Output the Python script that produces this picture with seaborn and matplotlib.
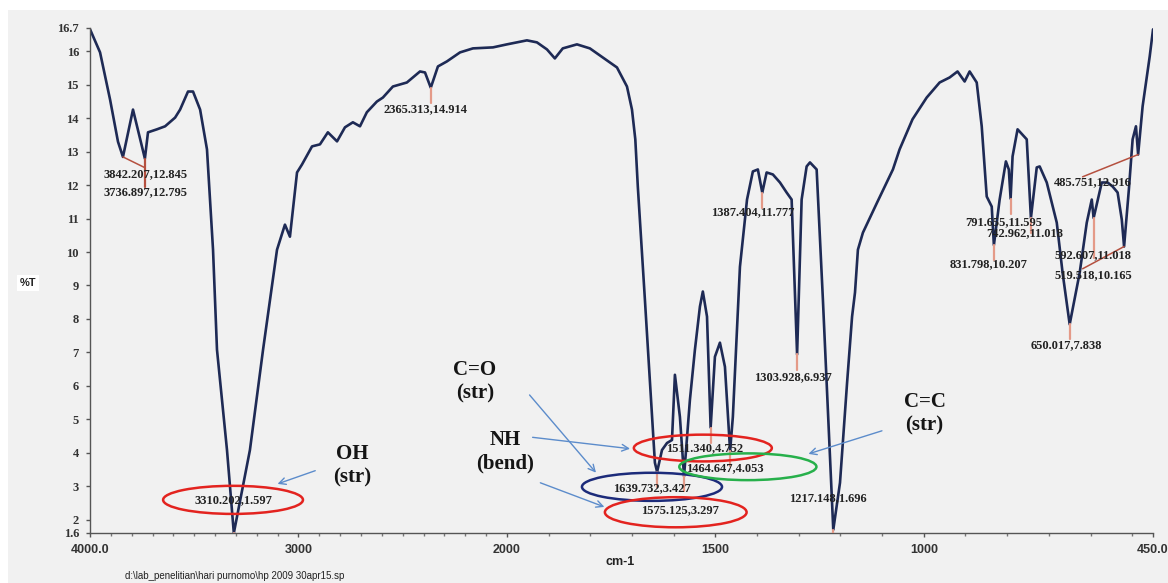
import numpy as np
import pandas as pd
import matplotlib
matplotlib.use("Agg")
import matplotlib.pyplot as plt
import seaborn as sns
from matplotlib.patches import Ellipse, Rectangle

# ---------------- data ----------------
wavenumber = [4000, 3952, 3904, 3866, 3842.2, 3794, 3736.9, 3722, 3679, 3640, 3592, 3568,
              3530, 3506, 3472, 3439, 3410, 3391, 3343, 3310.2, 3233, 3170, 3103, 3065,
              3041, 3007, 2983, 2935, 2897, 2859, 2815, 2777, 2739, 2705, 2672, 2624, 2595,
              2547, 2480, 2417, 2393, 2365.3, 2331, 2288, 2225, 2163, 2067, 2000, 1952,
              1928, 1904, 1885, 1866, 1832, 1801, 1770, 1736, 1712, 1700, 1692, 1686, 1669,
              1645, 1639.7, 1628, 1616, 1604, 1597, 1585, 1575.1, 1561, 1549, 1537, 1530,
              1520, 1511.3, 1501, 1489, 1477, 1464.6, 1458, 1441, 1424, 1410, 1398, 1387.4,
              1377, 1362, 1345, 1329, 1317, 1303.9, 1293, 1281, 1273, 1257, 1242, 1217.1,
              1201, 1184, 1172, 1165, 1158, 1146, 1112, 1074, 1058, 1027, 993, 962, 938, 919,
              902, 890, 873, 861, 849, 837, 831.8, 818, 803, 796, 791.7, 787, 775, 753, 743,
              729, 722, 705, 681, 667, 650.0, 626, 609, 597, 592.6, 573, 559, 547, 535, 525,
              519.5, 508, 499, 491, 485.8, 475, 458, 450]
transmittance = [16.66, 15.97, 14.56, 13.30, 12.845, 14.26, 12.795, 13.58, 13.67, 13.76, 14.02,
                 14.26, 14.80, 14.80, 14.26, 13.07, 10.07, 7.08, 4.08, 1.597, 4.08, 7.08, 10.07,
                 10.82, 10.46, 12.38, 12.62, 13.16, 13.22, 13.58, 13.31, 13.73, 13.88, 13.76,
                 14.18, 14.50, 14.62, 14.95, 15.07, 15.40, 15.37, 14.914, 15.55, 15.70, 15.97,
                 16.09, 16.12, 16.21, 16.33, 16.27, 16.06, 15.79, 16.09, 16.21, 16.09, 15.82,
                 15.52, 14.95, 14.26, 13.37, 11.96, 8.58, 3.70, 3.427, 4.08, 4.29, 4.38, 6.33,
                 5.07, 3.297, 5.58, 7.08, 8.37, 8.82, 8.07, 4.752, 6.87, 7.29, 6.57, 4.053, 5.07,
                 9.56, 11.57, 12.41, 12.47, 11.777, 12.38, 12.32, 12.08, 11.78, 11.57, 6.937,
                 11.57, 12.56, 12.68, 12.47, 8.58, 1.696, 3.10, 6.09, 8.07, 8.79, 10.07, 10.58,
                 11.48, 12.47, 13.07, 13.97, 14.62, 15.07, 15.22, 15.40, 15.10, 15.40, 15.07,
                 13.76, 11.66, 11.36, 10.207, 11.57, 12.71, 12.47, 11.595, 12.86, 13.67, 13.37,
                 11.018, 12.53, 12.56, 12.08, 10.88, 9.38, 7.838, 9.38, 10.88, 11.57, 11.018,
                 12.08, 12.08, 11.96, 11.78, 10.97, 10.165, 11.87, 13.37, 13.76, 12.916, 14.36,
                 15.85, 16.66]

peak_wn = [3842.207, 3736.897, 3310.202, 2365.313, 1639.732, 1575.125, 1511.340, 1464.647,
           1387.404, 1303.928, 1217.148, 831.798, 791.655, 742.962, 650.017, 592.607,
           519.518, 485.751]
peak_t = [12.845, 12.795, 1.597, 14.914, 3.427, 3.297, 4.752, 4.053, 11.777, 6.937, 1.696,
          10.207, 11.595, 11.018, 7.838, 11.018, 10.165, 12.916]

x_ticks = [4000, 3000, 2000, 1500, 1000, 450]
x_tick_labels = ["4000.0", "3000", "2000", "1500", "1000", "450.0"]
y_ticks = [1.6, 2, 3, 4, 5, 6, 7, 8, 9, 10, 11, 12, 13, 14, 15, 16, 16.7]
y_tick_labels = ["1.6", "2", "3", "4", "5", "6", "7", "8", "9", "10", "11", "12", "13",
                 "14", "15", "16", "16.7"]

group_names = ["OH\n(str)", "C=O\n(str)", "NH\n(bend)", "C=C\n(str)"]

# ---------------- layout ----------------
label_pos = [(3736, 12.32), (3736, 11.78), (3314, 2.59), (2393, 14.26), (1652, 2.95),
             (1585, 2.29), (1525, 4.14), (1477, 3.55), (1410, 11.18), (1314, 6.27),
             (1230, 2.65), (844, 9.65), (808, 10.88), (758, 10.58), (659, 7.23), (594, 9.92),
             (594, 9.32), (594, 12.08)]

BG = "#f1f1f1"
LINE = "#1e2a55"
SERIF = ["Liberation Serif", "DejaVu Serif"]
SANS = ["Liberation Sans", "DejaVu Sans"]

sns.set_theme(style="white")
plt.rcParams["font.family"] = SERIF

fig = plt.figure(figsize=(11.68, 5.83), dpi=100, facecolor=BG)
fig.patches.append(Rectangle((0, 0.982), 1, 0.02, transform=fig.transFigure,
                             facecolor="white", edgecolor="none", zorder=-1))
fig.patches.append(Rectangle((0, 0), 0.007, 1, transform=fig.transFigure,
                             facecolor="white", edgecolor="none", zorder=-1))
ax = fig.add_axes([0.0771, 0.0858, 0.9101, 0.8662])
ax.set_facecolor("none")


def fwd(x):
    x = np.asarray(x, dtype=float)
    return np.where(x > 2000, 2000 + (x - 2000) / 2.0, x)


def inv(y):
    y = np.asarray(y, dtype=float)
    return np.where(y > 2000, 2000 + (y - 2000) * 2.0, y)


ax.set_xscale("function", functions=(fwd, inv))

df = pd.DataFrame({"wn": wavenumber, "T": transmittance})
sns.lineplot(data=df, x="wn", y="T", sort=False, estimator=None, color=LINE,
             linewidth=1.9, ax=ax)

ax.set_xlim(4000, 450)
ax.set_ylim(1.6, 16.7)

# peak markers (short salmon lines below each minimum)
MARK = "#e49a88"
LEAD = "#b5503f"
for i, (w, t) in enumerate(zip(peak_wn, peak_t)):
    if i in (0, 16, 17):
        continue
    drop = 0.45
    if i == 15:
        drop = 1.2
    if i == 1:
        drop = 0.85
    ax.plot([w, w], [t, t - drop], color=MARK if i != 1 else LEAD, lw=1.6, zorder=3)
# leader lines
ax.plot([peak_wn[0], 3736], [peak_t[0], 12.52], color=LEAD, lw=1.1, zorder=3)
ax.plot([peak_wn[17], 619], [peak_t[17], 12.25], color=LEAD, lw=1.1, zorder=3)
ax.plot([peak_wn[16], 619], [peak_t[16], 9.5], color=LEAD, lw=1.1, zorder=3)

for (w, t), (lx, ly) in zip(zip(peak_wn, peak_t), label_pos):
    ax.text(lx, ly, f"{w:.3f},{t:.3f}", ha="center", va="center", fontsize=9,
            fontweight="bold", color="#222222", zorder=5)

# ellipses round the assigned peaks
ell = [((3314, 2.59), 671, 0.84, "#e3231f"),
       ((1652, 2.98), 336, 0.84, "#1c2b7a"),
       ((1595, 2.22), 340, 0.90, "#e3231f"),
       ((1530, 4.14), 331, 0.80, "#e3231f"),
       ((1422, 3.58), 329, 0.80, "#27b04b")]
for c, w, h, col in ell:
    ax.add_patch(Ellipse(c, w, h, facecolor="none", edgecolor=col, lw=1.8, zorder=4))

# group annotations
ARW = "#5c8ccb"
group_pos = [(2743, 3.62), (2154, 6.12), (2010, 4.02), (998, 5.16)]
for name, (gx, gy) in zip(group_names, group_pos):
    ax.text(gx, gy, name, ha="center", va="center", fontsize=15, fontweight="bold",
            color="#151515", linespacing=1.25, zorder=5)
arrows = [((2907, 3.49), (3113, 3.04)), ((1950, 5.79), (1782, 3.34)),
          ((1945, 4.47), (1698, 4.11)), ((1926, 3.13), (1760, 2.35)),
          ((1094, 4.68), (1283, 3.94))]
for (x0, y0), (x1, y1) in arrows:
    ax.annotate("", xy=(x1, y1), xytext=(x0, y0),
                arrowprops=dict(arrowstyle="->", color=ARW, lw=1.0), zorder=5)

# axes styling
for s in ("top", "right"):
    ax.spines[s].set_visible(False)
for s in ("left", "bottom"):
    ax.spines[s].set_color("#555555")
    ax.spines[s].set_linewidth(1.0)
ax.set_xticks(x_ticks)
ax.set_xticklabels(x_tick_labels, fontfamily=SANS, fontweight="bold", fontsize=9,
                   color="#333333")
ax.set_xticks([w for w in range(500, 4000, 100) if w not in x_ticks], minor=True)
ax.set_yticks(y_ticks)
ax.set_yticklabels(y_tick_labels, fontweight="bold", fontsize=9, color="#333333")
ax.tick_params(axis="both", which="major", direction="out", length=3, width=1,
               color="#555555", pad=5, left=True, bottom=True)
ax.tick_params(axis="x", which="minor", direction="out", length=2, width=1,
               color="#777777", bottom=True)
ax.set_xlabel("")
ax.set_ylabel("")

fig.text(0.024, 0.515, "%T", fontsize=8, fontweight="bold", family=SANS, color="#222222",
         ha="center", va="center",
         bbox=dict(facecolor="white", edgecolor="none", pad=2))
fig.text(0.531, 0.036, "cm-1", fontsize=9, fontweight="bold", family=SANS,
         color="#222222", ha="center", va="center")
fig.text(0.107, 0.012, r"d:\lab_penelitian\hari purnomo\hp 2009 30apr15.sp", fontsize=7,
         family=SANS, color="#222222", ha="left", va="center")

fig.savefig("out.png", dpi=100, facecolor=BG)
